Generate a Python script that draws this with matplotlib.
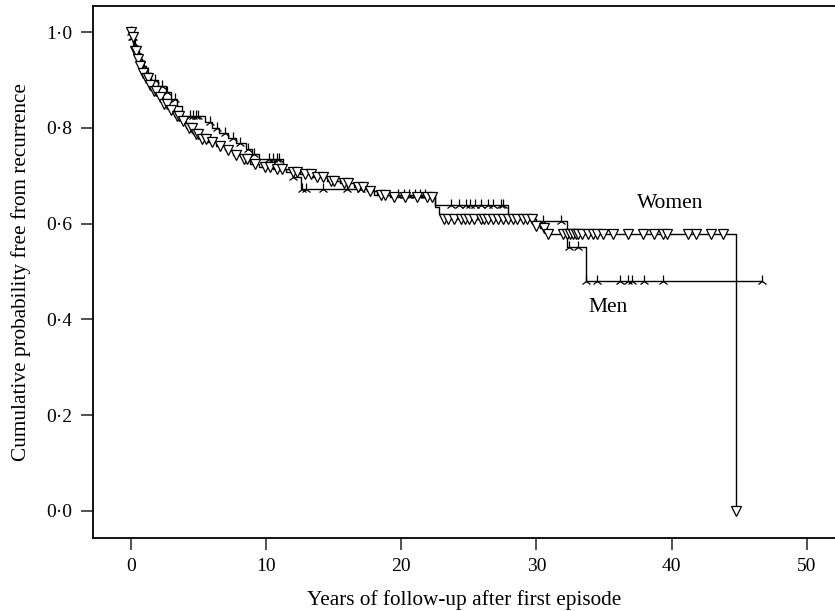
import numpy as np
import matplotlib
matplotlib.use("Agg")
import matplotlib.pyplot as plt
from matplotlib.ticker import FuncFormatter

# ---- data ----
women_event_times = [0.0, 0.1, 0.2, 0.3, 0.45, 0.6, 0.8, 1.0, 1.3, 1.6, 2.0, 2.4, 2.8, 3.2,
                     3.7, 4.1, 4.6, 5.1, 5.7, 6.3, 7.0, 7.6, 8.2, 8.8, 9.5, 10.5, 11.5,
                     12.5, 13.5, 14.5, 15.5, 16.5, 17.5, 18.2, 19.2, 22.5, 22.8, 23.1,
                     29.8, 30.3, 30.8, 44.8]
women_surv = [1.0, 0.99, 0.975, 0.96, 0.945, 0.93, 0.915, 0.905, 0.89, 0.878, 0.865, 0.85,
              0.838, 0.826, 0.814, 0.80, 0.788, 0.778, 0.77, 0.762, 0.754, 0.744, 0.735,
              0.725, 0.719, 0.714, 0.708, 0.703, 0.697, 0.69, 0.684, 0.677, 0.668, 0.66,
              0.656, 0.635, 0.62, 0.61, 0.596, 0.59, 0.578, 0.0]
women_censor = [0.05, 0.15, 0.3, 0.4, 0.55, 0.7, 0.9, 1.1, 1.25, 1.45, 1.7, 1.9, 2.2, 2.5,
                2.7, 3.0, 3.4, 3.6, 3.9, 4.3, 4.5, 4.8, 5.0, 5.3, 5.6, 6.0, 6.6, 7.2, 7.8,
                8.4, 8.6, 9.2, 9.9, 10.3, 10.8, 11.2, 12.0, 12.3, 12.9, 13.3, 13.8, 14.2,
                14.8, 15.0, 15.8, 16.1, 16.8, 17.2, 17.7, 18.5, 18.8, 19.5, 20.3, 21.2,
                21.9, 22.3, 23.2, 23.5, 23.9, 24.4, 24.7, 25.0, 25.4, 25.9, 26.1, 26.4,
                26.8, 27.2, 27.5, 27.9, 28.3, 28.6, 29.0, 29.3, 29.7, 30.0, 30.6, 30.9,
                32.0, 32.3, 32.5, 32.7, 32.9, 33.1, 33.4, 33.8, 34.2, 34.5, 34.9, 35.7,
                36.8, 37.9, 38.7, 39.4, 39.7, 41.2, 41.8, 42.9, 43.8, 44.8]

men_event_times = [0.0, 0.1, 0.25, 0.4, 0.6, 0.8, 1.1, 1.5, 2.0, 2.6, 3.0, 3.4, 3.8, 5.5,
                   6.0, 6.5, 7.2, 7.8, 8.5, 9.0, 9.5, 11.3, 12.0, 12.6, 18.0, 22.5, 27.9,
                   30.0, 32.3, 33.7]
men_surv = [1.0, 0.99, 0.975, 0.96, 0.945, 0.93, 0.915, 0.90, 0.888, 0.875, 0.86, 0.845,
            0.825, 0.812, 0.80, 0.79, 0.78, 0.768, 0.756, 0.745, 0.735, 0.715, 0.698,
            0.672, 0.66, 0.639, 0.61, 0.605, 0.552, 0.481]
men_censor = [0.05, 0.1, 0.2, 0.35, 0.5, 0.75, 1.0, 1.3, 1.8, 2.3, 2.7, 3.3, 4.4, 4.6,
              4.8, 5.0, 5.9, 6.4, 7.0, 7.6, 8.1, 8.7, 9.1, 10.2, 10.5, 10.8, 11.0, 12.0,
              12.7, 13.0, 14.2, 16.0, 17.0, 19.8, 20.2, 20.6, 21.0, 21.4, 21.8, 23.7,
              24.3, 24.8, 25.1, 25.5, 25.9, 26.4, 26.8, 27.4, 27.5, 30.5, 31.8, 32.4,
              33.1, 33.7, 34.5, 36.2, 36.8, 37.1, 38.0, 39.4, 46.7]

x_ticks = [0, 10, 20, 30, 40, 50]
y_ticks = [0.0, 0.2, 0.4, 0.6, 0.8, 1.0]

# ---- style ----
plt.rcParams['font.family'] = ['Liberation Serif', 'DejaVu Serif']
W, H = 835, 611
fig = plt.figure(figsize=(W / 100, H / 100), dpi=100)
ax = fig.add_axes([92.7 / W, 1 - 537.7 / H, 1 - 92.7 / W, (537.7 - 5.7) / H])


def step_value(times, surv, t):
    idx = np.searchsorted(times, t, side='right') - 1
    return np.asarray(surv)[idx]


def draw_curve(times, surv, censor, marker, ms, mfc):
    times = np.asarray(times, dtype=float)
    surv = np.asarray(surv, dtype=float)
    end = max(times[-1], max(censor))
    xs = np.append(times, end)
    ys = np.append(surv, surv[-1])
    ax.step(xs, ys, where='post', color='black', lw=1.0, zorder=2)
    c = np.asarray(censor, dtype=float)
    cy = step_value(times, surv, c)
    ax.plot(c, cy, linestyle='none', marker=marker, ms=ms, mfc=mfc,
            mec='black', mew=0.9, zorder=3)


draw_curve(men_event_times, men_surv, men_censor, '2', 8, 'none')
draw_curve(women_event_times, women_surv, women_censor, 'v', 6.5, 'white')

ax.set_xlim(-2.81, 52.09)
ax.set_ylim(-0.0564, 1.0556)
ax.set_xticks(x_ticks)
ax.set_yticks(y_ticks)
ax.yaxis.set_major_formatter(FuncFormatter(lambda v, p: f"{v:.1f}".replace('.', '\u00b7')))
ax.tick_params(direction='out', length=8.5, width=1.1, labelsize=14, pad=6, color='#222222')
for s in ['left', 'bottom', 'top']:
    ax.spines[s].set_linewidth(1.3)
ax.spines['right'].set_visible(False)

ax.set_xlabel('Years of follow-up after first episode', fontsize=15.3, labelpad=11)
ax.set_ylabel('Cumulative probability free from recurrence', fontsize=15.3, labelpad=11)

ax.text(39.93, 0.643, 'Women', fontsize=15.5, ha='center', va='center')
ax.text(35.27, 0.424, 'Men', fontsize=15.5, ha='center', va='center')

fig.savefig('out.png', dpi=100)
